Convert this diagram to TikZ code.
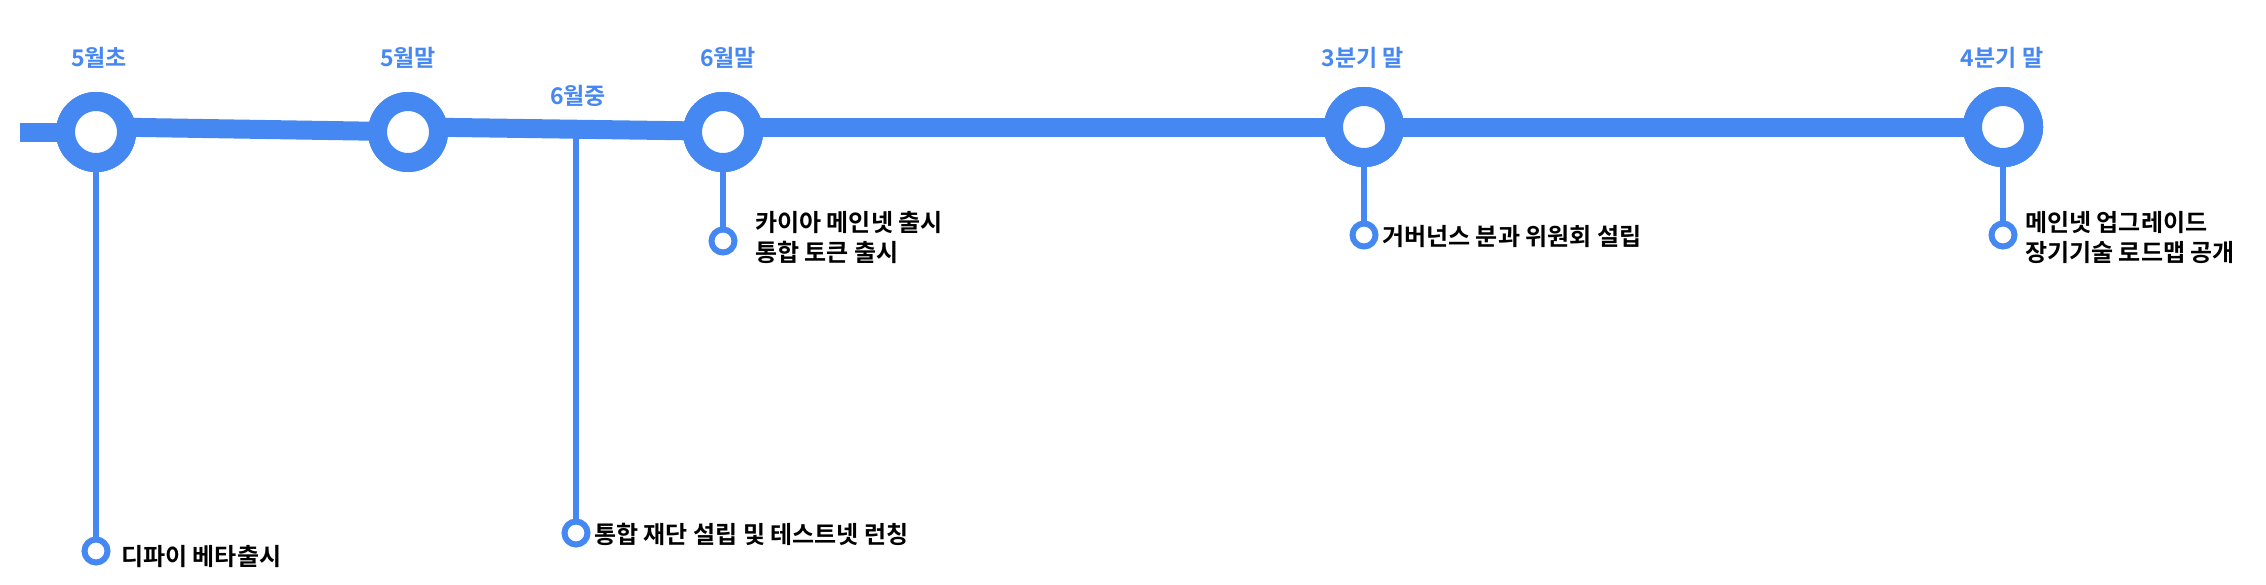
\documentclass[tikz,border=0pt]{standalone}
\usepackage{fontspec}
\setmainfont{Noto Sans CJK KR Bold}
\definecolor{tl}{HTML}{4688F1}
\begin{document}
\begin{tikzpicture}[x=1pt,y=-1pt,
  big/.style={circle,draw=tl,line width=19pt,fill=white,minimum size=61pt,inner sep=0pt},
  small/.style={circle,draw=tl,line width=6pt,fill=white,minimum size=23pt,inner sep=0pt},
  stem/.style={draw=tl,line width=6pt},
  mon/.style={text=tl,font=\fontsize{23}{26}\selectfont},
  ev/.style={text=black,font=\fontsize{24}{30}\selectfont,anchor=west,inner sep=0pt,align=left}]
\useasboundingbox (0,0) rectangle (2266,584);
\clip (0,0) rectangle (2266,584);
\coordinate (s) at (20,132.5);
\coordinate (m) at (576,131);
\node[big] (c1) at (96,132) {};
\node[big] (c2) at (408,132) {};
\node[big] (c3) at (723,132) {};
\node[big] (c4) at (1364,127) {};
\node[big] (c5) at (2003,127) {};
\begin{scope}[on background layer/.style={}]
\end{scope}
\fill[tl] (20,123) -- (70,123) -- (70,142) -- (20,142) -- cycle;
\fill[tl] (110,117.5) -- (390,122) -- (390,141) -- (110,136.5) -- cycle;
\fill[tl] (420,117.5) -- (700,121.5) -- (700,140.5) -- (420,136.5) -- cycle;
\fill[tl] (740,117.5) -- (1990,117.5) -- (1990,136.5) -- (740,136.5) -- cycle;
\node[big] at (c1) {};
\node[big] at (c2) {};
\node[big] at (c3) {};
\node[big] at (c4) {};
\node[big] at (c5) {};
\node[small] (d1) at (96,551) {};
\node[small] (d2) at (576,533) {};
\node[small] (d3) at (723,241) {};
\node[small] (d4) at (1364,235) {};
\node[small] (d5) at (2003,235) {};
\draw[stem] (c1.south) -- (d1.north);
\draw[stem] (m) -- (d2.north);
\draw[stem] (c3.south) -- (d3.north);
\draw[stem] (c4.south) -- (d4.north);
\draw[stem] (c5.south) -- (d5.north);
\node[big] at (c1) {};
\node[big] at (c3) {};
\node[big] at (c4) {};
\node[big] at (c5) {};
\node[mon] (l1) at (99,58) {5월초};
\node[mon] (l2) at (408,58) {5월말};
\node[mon] (l3) at (578,96) {6월중};
\node[mon] (l4) at (728,58) {6월말};
\node[mon] (l5) at (1363,58) {3분기 말};
\node[mon] (l6) at (2002,58) {4분기 말};
\node[ev] (e1) at (121,557) {디파이 베타출시};
\node[ev] (e2) at (594,534) {통합 재단 설립 및 테스트넷 런칭};
\node[ev] (e3) at (755,238) {카이아 메인넷 출시\\통합 토큰 출시};
\node[ev] (e4) at (1382,236.5) {거버넌스 분과 위원회 설립};
\node[ev] (e5) at (2025,237) {메인넷 업그레이드\\장기기술 로드맵 공개};
\end{tikzpicture}
\end{document}
